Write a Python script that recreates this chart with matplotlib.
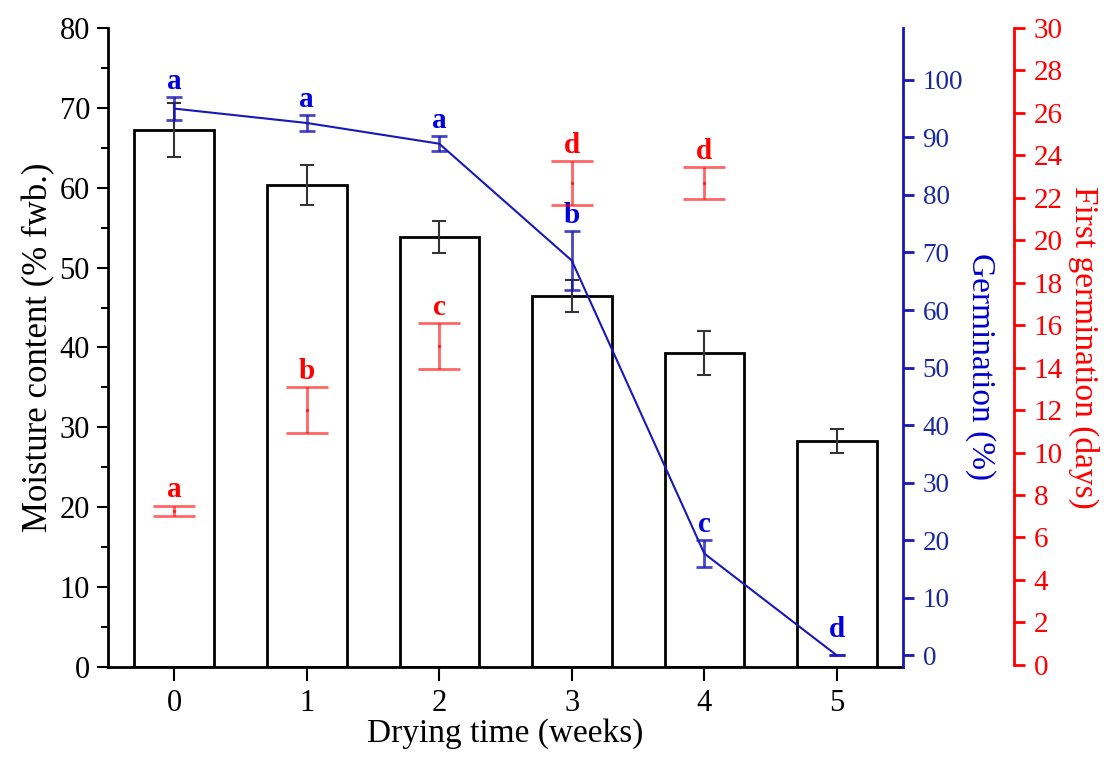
import matplotlib
matplotlib.use("Agg")
import matplotlib.pyplot as plt
from matplotlib.ticker import MultipleLocator

# drying time (weeks)
weeks = [0, 1, 2, 3, 4, 5]

# moisture content (% fwb.), bars
moisture = [67.2, 60.4, 53.8, 46.5, 39.3, 28.3]
moisture_err = [3.4, 2.5, 2.0, 2.0, 2.8, 1.5]

# germination (%), blue line
germ = [95.0, 92.5, 88.9, 68.6, 17.7, 0.0]
germ_err = [2.0, 1.4, 1.3, 5.1, 2.3, 0.0]
germ_letters = ["a", "a", "a", "b", "c", "d"]

# first germination (days), red points (none at week 5)
first_weeks = [0, 1, 2, 3, 4]
first_days = [7.25, 12.0, 15.0, 22.7, 22.7]
first_err = [0.25, 1.08, 1.08, 1.04, 0.75]
first_letters = ["a", "b", "c", "d", "d"]

BLUE = "#1818b8"
RED = "#ff0000"

plt.rcParams["font.family"] = ["Liberation Serif", "DejaVu Serif"]

fig = plt.figure(figsize=(11.04, 7.57), dpi=100)
ax = fig.add_axes([0.0978, 0.119, 0.7202, 0.844])

# bars
ax.bar(weeks, moisture, width=0.6, color="white", edgecolor="black",
       linewidth=2, zorder=2)
ax.errorbar(weeks, moisture, yerr=moisture_err, fmt="none", ecolor="#333333",
            elinewidth=1.5, capsize=5, capthick=1.5, zorder=3)

ax.set_xlim(-0.5, 5.5)
ax.set_ylim(0, 80)
ax.yaxis.set_major_locator(MultipleLocator(10))
ax.yaxis.set_minor_locator(MultipleLocator(5))
ax.set_xticks(weeks)
ax.spines["top"].set_visible(False)
ax.spines["right"].set_visible(False)
for s in ("left", "bottom"):
    ax.spines[s].set_linewidth(2)
ax.tick_params(axis="y", which="major", direction="out", length=8, width=1.5,
               labelsize=22, pad=5)
ax.tick_params(axis="y", which="minor", direction="out", length=5, width=1.5)
ax.tick_params(axis="x", direction="out", length=10, width=1.5,
               labelsize=22, pad=6)
ax.set_xlabel("Drying time (weeks)", fontsize=24, labelpad=0)
ax.set_ylabel("Moisture content (% fwb.)", fontsize=25, labelpad=3)

# germination axis (blue)
ax2 = ax.twinx()
ax2.plot(weeks, germ, color=BLUE, linewidth=1.5, zorder=4)
ax2.errorbar(weeks, germ, yerr=germ_err, fmt="none", ecolor=BLUE,
             elinewidth=2, capsize=6, capthick=2, alpha=0.8, zorder=4)
for x, y, e, t in zip(weeks, germ, germ_err, germ_letters):
    off = 6 if e > 0 else 13
    ax2.annotate(t, (x, y + e), xytext=(0, off), textcoords="offset points",
                 ha="center", va="baseline", color="#0000dd",
                 fontsize=21, fontweight="bold")
ax2.set_ylim(-2, 109)
ax2.set_yticks(range(0, 101, 10))
for s in ("top", "left", "bottom"):
    ax2.spines[s].set_visible(False)
ax2.spines["right"].set_color(BLUE)
ax2.spines["right"].set_linewidth(2)
ax2.tick_params(axis="y", colors="#1a2a9a", direction="out", length=8,
                width=2, labelsize=19.5, pad=6)
ax2.tick_params(axis="y", color=BLUE)
ax2.set_ylabel("Germination (%)", fontsize=24, color="#0000cc",
               rotation=270, va="bottom", labelpad=2)
ax2.yaxis.set_label_coords(1.078, 0.47)

# first germination axis (red)
ax3 = ax.twinx()
ax3.spines["right"].set_position(("axes", 1.1396))
ax3.errorbar(first_weeks, first_days, yerr=first_err, fmt="o", markersize=1.5,
             color=RED, ecolor=RED, elinewidth=2, capsize=15, capthick=2,
             alpha=0.6, zorder=4)
for x, y, e, t in zip(first_weeks, first_days, first_err, first_letters):
    ax3.annotate(t, (x, y + e), xytext=(0, 6), textcoords="offset points",
                 ha="center", va="baseline", color=RED,
                 fontsize=21, fontweight="bold")
ax3.set_ylim(-0.1, 30)
ax3.set_yticks(range(0, 31, 2))
for s in ("top", "left", "bottom"):
    ax3.spines[s].set_visible(False)
ax3.spines["right"].set_color(RED)
ax3.spines["right"].set_linewidth(2)
ax3.spines["right"].set_bounds(0, 30)
ax3.tick_params(axis="y", colors=RED, direction="out", length=8, width=2,
                labelsize=21, pad=6)
ax3.set_ylabel("First germination (days)", fontsize=24, color=RED,
               rotation=270, va="bottom", labelpad=4)

fig.savefig("out.png", dpi=100)
